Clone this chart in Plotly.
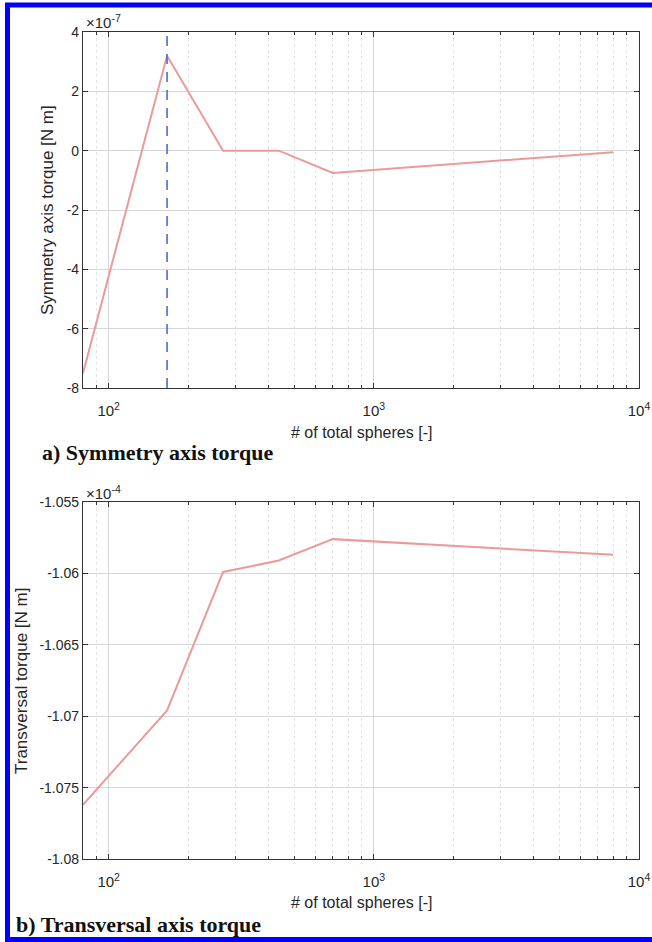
import math
import plotly.graph_objects as go

# ---- data ----
n_spheres = [80, 166, 270, 438, 700, 8000]
sym_torque = [-7.5e-7, 3.2e-7, 0.0, 0.0, -0.75e-7, -0.05e-7]
trans_torque = [-1.0762e-4, -1.0696e-4, -1.0599e-4, -1.0591e-4, -1.0576e-4, -1.0587e-4]
selected_n = 166

x_tickvals = [100, 1000, 10000]
x_ticktext = ["10<sup>2</sup>", "10<sup>3</sup>", "10<sup>4</sup>"]
x_minor = [90] + [m * 10 ** e for e in (2, 3) for m in range(2, 10)]

sym_ticks = [-8, -6, -4, -2, 0, 2, 4]          # x 1e-7
sym_ticktext = ["-8", "-6", "-4", "-2", "0", "2", "4"]
trans_ticks = [-1.08, -1.075, -1.07, -1.065, -1.06, -1.055]   # x 1e-4
trans_ticktext = ["-1.08", "-1.075", "-1.07", "-1.065", "-1.06", "-1.055"]

W, H = 652, 942
def px(x): return x / W
def py(y): return 1 - y / H

LINE_C = "#eb9a9a"
AX_C = "#333333"
FONT = "Liberation Sans, Arial, sans-serif"

fig = go.Figure()
fig.add_trace(go.Scatter(x=n_spheres, y=sym_torque, mode="lines",
                         line=dict(color=LINE_C, width=2), xaxis="x", yaxis="y",
                         showlegend=False))
fig.add_trace(go.Scatter(x=[selected_n, selected_n], y=[sym_ticks[0] * 1e-7, sym_ticks[-1] * 1e-7],
                         mode="lines", line=dict(color="#4a6cd8", width=1.6, dash="10px,8px"),
                         xaxis="x", yaxis="y", showlegend=False))
fig.add_trace(go.Scatter(x=n_spheres, y=trans_torque, mode="lines",
                         line=dict(color=LINE_C, width=2), xaxis="x2", yaxis="y2",
                         showlegend=False))

xr = [math.log10(n_spheres[0]), 4]

def xaxis(anchor):
    return dict(type="log", range=xr, domain=[px(83), px(639)], anchor=anchor,
                tickvals=x_tickvals, ticktext=x_ticktext,
                ticks="inside", ticklen=5, tickcolor=AX_C, tickwidth=1,
                ticklabelstandoff=9,
                showline=True, linecolor=AX_C, linewidth=1.2, mirror="allticks",
                showgrid=True, gridcolor="#d6d6d6", gridwidth=1,
                minor=dict(tickvals=x_minor, ticks="inside", ticklen=3, tickcolor=AX_C,
                           showgrid=True, gridcolor="#e4e4e4", griddash="dot", gridwidth=1),
                tickfont=dict(family=FONT, size=15, color="#262626"),
                zeroline=False, automargin=False)

def yaxis(anchor, dom, rng, vals, text):
    return dict(range=rng, domain=dom, anchor=anchor, tickvals=vals, ticktext=text,
                ticks="inside", ticklen=5, tickcolor=AX_C, tickwidth=1,
                showline=True, linecolor=AX_C, linewidth=1.2, mirror="allticks",
                showgrid=True, gridcolor="#d6d6d6", gridwidth=1,
                tickfont=dict(family=FONT, size=14, color="#262626"),
                zeroline=False, automargin=False)

fig.update_layout(
    width=W, height=H, margin=dict(l=0, r=0, t=0, b=0),
    paper_bgcolor="white", plot_bgcolor="white",
    xaxis=xaxis("y"),
    yaxis=yaxis("x", [py(388), py(32)], [sym_ticks[0] * 1e-7, sym_ticks[-1] * 1e-7],
                [v * 1e-7 for v in sym_ticks], sym_ticktext),
    xaxis2=xaxis("y2"),
    yaxis2=yaxis("x2", [py(859), py(502)], [trans_ticks[0] * 1e-4, trans_ticks[-1] * 1e-4],
                 [v * 1e-4 for v in trans_ticks], trans_ticktext),
)

ann_font = dict(family=FONT, size=15, color="#262626")
title_font = dict(family=FONT, size=16, color="#262626")
cap_font = dict(family="Liberation Serif, Times New Roman, serif", size=22, color="#111111")
annotations = [
    dict(x=px(84), y=py(22), text="×10<sup>-7</sup>", xanchor="left", yanchor="middle", font=ann_font),
    dict(x=px(84), y=py(492), text="×10<sup>-4</sup>", xanchor="left", yanchor="middle", font=ann_font),
    dict(x=px(361), y=py(432), text="# of total spheres [-]", xanchor="center", yanchor="middle", font=title_font),
    dict(x=px(361), y=py(902), text="# of total spheres [-]", xanchor="center", yanchor="middle", font=title_font),
    dict(x=px(48), y=py(210), text="Symmetry axis torque [N m]", textangle=-90,
         xanchor="center", yanchor="middle", font=dict(family=FONT, size=17, color="#262626")),
    dict(x=px(21), y=py(681), text="Transversal torque [N m]", textangle=-90,
         xanchor="center", yanchor="middle", font=dict(family=FONT, size=17, color="#262626")),
    dict(x=px(40), y=py(452), text="<b>a) Symmetry axis torque</b>", xanchor="left", yanchor="middle",
         font=cap_font),
    dict(x=px(14), y=py(924), text="<b>b) Transversal axis torque</b>", xanchor="left", yanchor="middle",
         font=cap_font),
]
for a in annotations:
    a.update(xref="paper", yref="paper", showarrow=False)
fig.update_layout(annotations=annotations)

# blue frame (left, top, bottom edges)
BLUE = "#0000ff"
fig.add_shape(type="line", xref="paper", yref="paper", x0=px(7.5), x1=px(7.5), y0=py(3), y1=py(942),
              line=dict(color=BLUE, width=5))
fig.add_shape(type="line", xref="paper", yref="paper", x0=px(5), x1=px(652), y0=py(5), y1=py(5),
              line=dict(color=BLUE, width=5))
fig.add_shape(type="line", xref="paper", yref="paper", x0=px(5), x1=px(652), y0=py(939.5), y1=py(939.5),
              line=dict(color=BLUE, width=5))

fig.write_html("out.html")
